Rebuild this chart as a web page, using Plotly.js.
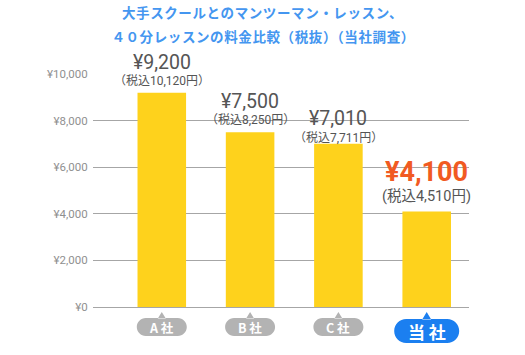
<!DOCTYPE html>
<html>
<head>
<meta charset="utf-8">
<script src="https://cdn.plot.ly/plotly-3.0.1.min.js"></script>
<style>
html,body{margin:0;padding:0;background:#fff;}
#chart{width:525px;height:355px;}
.gtitle, .gtitle tspan, .titleline2, .titleline2 tspan{letter-spacing:0.6px !important;}
</style>
</head>
<body>
<div id="chart"></div>
<script>
// ---- data ----
const companies = ['A 社', 'B 社', 'C 社', '当 社'];
const prices = [9200, 7500, 7010, 4100];
const priceLabels = ['¥9,200', '¥7,500', '¥7,010', '¥4,100'];
const taxInLabels = ['（税込10,120円）', '（税込8,250円）', '（税込7,711円）', '(税込4,510円)'];
const yTickVals = [0, 2000, 4000, 6000, 8000, 10000];
const yTickText = ['¥0', '¥2,000', '¥4,000', '¥6,000', '¥8,000', '¥10,000'];
const titleLine1 = '大手スクールとのマンツーマン・レッスン、';
const titleLine2 = '４０分レッスンの料金比較（税抜）（当社調査）';

// ---- styling ----
const xIdx = companies.map((_, i) => i);
const ownIdx = companies.length - 1;
const bigShift = [30, 31, 25.5, 39];
const smallShift = [12, 12, 6, 15];
const numFont = 'Roboto, Noto Sans CJK JP, sans-serif';
const titleFont = {family: 'Noto Sans CJK JP, sans-serif', size: 13.5, color: '#4496f0', weight: 'bold'};

function pillPath(w, h, cy, triW, triH) {
  const r = h / 2, k = 0.5523 * r;
  const L = -w / 2, R = w / 2, T = cy + h / 2, B = cy - h / 2;
  const p = (x, y) => x.toFixed(2) + ',' + y.toFixed(2);
  return 'M' + p(L + r, T) + ' L' + p(R - r, T) +
    ' C' + p(R - r + k, T) + ' ' + p(R, cy + k) + ' ' + p(R, cy) +
    ' C' + p(R, cy - k) + ' ' + p(R - r + k, B) + ' ' + p(R - r, B) +
    ' L' + p(L + r, B) +
    ' C' + p(L + r - k, B) + ' ' + p(L, cy - k) + ' ' + p(L, cy) +
    ' C' + p(L, cy + k) + ' ' + p(L + r - k, T) + ' ' + p(L + r, T) + ' Z' +
    ' M' + p(-triW / 2, T - 0.5) + ' L' + p(0, T + triH) + ' L' + p(triW / 2, T - 0.5) + ' Z';
}

const shapes = xIdx.map(i => {
  const own = i === ownIdx;
  return {
    type: 'path', xref: 'x', yref: 'paper',
    xsizemode: 'pixel', ysizemode: 'pixel', xanchor: i, yanchor: 0,
    path: own ? pillPath(65, 24, -24, 9, 7) : pillPath(50, 18, -20, 8, 6),
    fillcolor: own ? '#1b7ff0' : '#b3b3b3', line: {width: 0}, layer: 'above'
  };
});

const annotations = [{
  x: 0.451, xref: 'paper', y: 1.163, yref: 'paper', xanchor: 'center', yanchor: 'middle',
  text: titleLine2, showarrow: false, font: titleFont, borderpad: 0
}];
xIdx.forEach(i => {
  const own = i === ownIdx;
  annotations.push({
    x: i, y: prices[i], xref: 'x', yref: 'y', text: priceLabels[i], showarrow: false,
    yanchor: 'middle', yshift: bigShift[i], borderpad: 0,
    font: own ? {family: numFont, size: 27, color: '#f15a22', weight: 'bold'}
              : {family: numFont, size: 19.5, color: '#555555'}
  });
  annotations.push({
    x: i, y: prices[i], xref: 'x', yref: 'y', text: taxInLabels[i], showarrow: false,
    yanchor: 'middle', yshift: smallShift[i], borderpad: 0,
    font: own ? {family: numFont, size: 14.5, color: '#555555'}
              : {family: numFont, size: 12, color: '#555555'}
  });
  annotations.push({
    x: i, y: 0, xref: 'x', yref: 'y', text: companies[i], showarrow: false,
    yanchor: 'middle', yshift: own ? -24 : -20,
    font: {family: 'Noto Sans CJK JP, sans-serif', size: own ? 17 : 12.5, color: '#ffffff', weight: 'bold'}
  });
});

const trace = {
  type: 'bar', x: xIdx, y: prices, width: 0.55,
  marker: {color: '#fed21c', line: {width: 0}},
  hoverinfo: 'skip', cliponaxis: false
};

const layout = {
  width: 525, height: 355,
  margin: {l: 93, r: 56, t: 74, b: 48, pad: 0},
  paper_bgcolor: '#ffffff', plot_bgcolor: '#ffffff',
  showlegend: false,
  title: {
    text: titleLine1,
    x: 0.5, xref: 'container', xanchor: 'center',
    y: 0.975, yref: 'container', yanchor: 'top',
    font: titleFont
  },
  xaxis: {
    range: [-0.779, 3.479], showgrid: false, zeroline: false, showline: false,
    showticklabels: false, ticks: '', fixedrange: true
  },
  yaxis: {
    range: [0, 10000], tickvals: yTickVals, ticktext: yTickText,
    showgrid: true, gridcolor: '#a6a6a6', gridwidth: 1,
    zeroline: true, zerolinecolor: '#a6a6a6', zerolinewidth: 1,
    showline: false, ticks: 'outside', ticklen: 2, tickcolor: 'rgba(0,0,0,0)',
    tickfont: {family: 'Roboto, sans-serif', size: 11.5, color: '#909090'},
    fixedrange: true
  },
  shapes: shapes,
  annotations: annotations
};

Plotly.newPlot('chart', [trace], layout, {displayModeBar: false, staticPlot: true}).then(gd => {
  const a = gd.querySelector('.annotation[data-index="0"] text');
  if (a) a.classList.add('titleline2');
});
</script>
</body>
</html>
